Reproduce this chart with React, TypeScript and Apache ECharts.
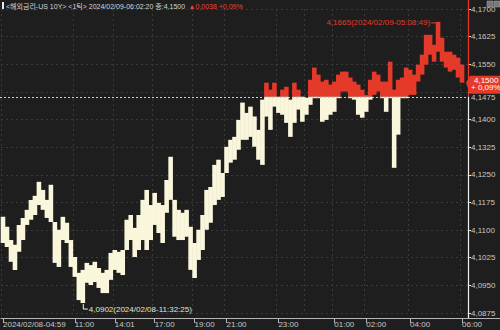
import React, { useEffect, useRef } from 'react';
import * as echarts from 'echarts';

const prevClose = 4.1462;
const lastPrice = 4.15;
const lastTime = '2024/02/09-06:02:20';
const minTime = '2024/02/08-11:32:25';
const maxTime = '2024/02/09-05:08:49';
const titleText = '<해외금리-US 10Y> <1틱>';

// per-bucket traded highs and lows (left to right, ~4px buckets)
const highs: (number | null)[] = [
  4.1136, 4.1109, 4.1073, 4.1060, 4.1114, 4.1133, 4.1155, 4.1182, 4.1193, 4.1231,
  4.1209, 4.1182, 4.1223, 4.1114, 4.1101, 4.1136, 4.1120, 4.1073, 4.1027, 4.0984,
  4.0992, 4.1011, 4.1005, 4.1014, 4.0997, 4.0984, 4.0992, 4.1038, 4.1046, 4.1041,
  4.1046, 4.1128, 4.1141, 4.1106, 4.1141, 4.1182, 4.1209, 4.1168, 4.1201, 4.1174,
  4.1168, 4.1236, 4.1299, 4.1182, 4.1155, 4.1147, 4.1155, 4.1109, 4.1065, 4.1101,
  4.1141, 4.1209, 4.1217, 4.1277, 4.1291, 4.1255, 4.1326, 4.1345, 4.1353, 4.1399,
  4.1446, 4.1418, 4.1435, 4.1408, 4.1372, 4.1454, 4.1500, 4.1481, 4.1500, 4.1462,
  4.1481, 4.1489, 4.1454, 4.1500, 4.1481, 4.1462, 4.1459, 4.1508, 4.1541, 4.1522,
  4.1503, 4.1508, 4.1495, 4.1503, 4.1522, 4.1530, 4.1530, 4.1514, 4.1503, 4.1495,
  4.1481, 4.1467, 4.1508, 4.1530, 4.1522, 4.1503, 4.1503, 4.1557, 4.1481, 4.1508,
  4.1514, 4.1541, 4.1535, 4.1522, 4.1549, 4.1576, 4.1630, 4.1630, 4.1603, 4.1665,
  4.1622, 4.1584, 4.1584, 4.1576, 4.1568, 4.1549, null,
];
const lows: (number | null)[] = [
  4.1065, 4.1054, 4.1014, 4.0992, 4.1041, 4.1073, 4.1114, 4.1128, 4.1141, 4.1168,
  4.1155, 4.1133, 4.1122, 4.1011, 4.1000, 4.1073, 4.1065, 4.1000, 4.0973, 4.0910,
  4.0902, 4.0957, 4.0951, 4.0959, 4.0943, 4.0929, 4.0929, 4.0965, 4.0992, 4.0984,
  4.0978, 4.1046, 4.1073, 4.1027, 4.1046, 4.1073, 4.1046, 4.1073, 4.1114, 4.1092,
  4.1065, 4.1147, 4.1182, 4.1082, 4.1073, 4.1073, 4.1082, 4.0992, 4.0970, 4.1019,
  4.1046, 4.1101, 4.1120, 4.1168, 4.1182, 4.1190, 4.1255, 4.1283, 4.1291, 4.1318,
  4.1345, 4.1345, 4.1353, 4.1326, 4.1291, 4.1277, 4.1408, 4.1372, 4.1435, 4.1418,
  4.1413, 4.1391, 4.1353, 4.1391, 4.1427, 4.1394, 4.1413, 4.1440, 4.1462, 4.1462,
  4.1394, 4.1399, 4.1413, 4.1421, 4.1462, 4.1476, 4.1476, 4.1462, 4.1454, 4.1413,
  4.1405, 4.1421, 4.1454, 4.1467, 4.1476, 4.1462, 4.1421, 4.1462, 4.1269, 4.1359,
  4.1462, 4.1462, 4.1467, 4.1467, 4.1503, 4.1522, 4.1549, 4.1576, 4.1557, 4.1584,
  4.1557, 4.1541, 4.1530, 4.1535, 4.1514, 4.1500, null,
];

const tickIndex = [0, 18, 28, 38, 48, 56, 69, 83, 91, 102, 115];
const tickLabels = ['2024/02/08-04:59', '11:00', '14:01', '17:00', '19:00', '21:00', '23:00', '01:00', '02:00', '04:00', '06:00'];
const extraGridIndex = [76];

const Y_MIN = 4.0875;
const Y_MAX = 4.17;
const Y_STEP = 0.0075;

const BG = '#1e1e1e';
const RED = '#e5392a';
const CREAM = '#f9f6dc';
const GRID = '#3b3b3b';
const FONT = "'Liberation Sans Narrow', 'Liberation Sans', 'Noto Sans CJK KR', sans-serif";

const fmt = (v: number) => v.toFixed(4).replace('.', ',');

export default function App() {
  const ref = useRef<HTMLDivElement>(null);
  useEffect(() => {
    document.body.style.margin = '0';
    const chart = echarts.init(ref.current!, null, { renderer: 'svg' });

    const cats = highs.map(() => '');
    tickIndex.forEach((ix, k) => { cats[ix] = tickLabels[k]; });
    const gridSet = new Set([...tickIndex, ...extraGridIndex]);
    const tickSet = new Set(tickIndex);

    const rows: number[][] = [];
    highs.forEach((h, b) => {
      const l = lows[b];
      if (h != null && l != null) rows.push([b, l, h]);
    });
    let minRow = rows[0], maxRow = rows[0], lastRow = rows[0];
    rows.forEach((r) => {
      if (r[1] < minRow[1]) minRow = r;
      if (r[2] > maxRow[2]) maxRow = r;
      lastRow = r;
    });
    const change = lastPrice - prevClose;
    const pct = (change / prevClose) * 100;
    const pctStr = pct.toFixed(2).replace('.', ',');

    chart.setOption({
      animation: false,
      backgroundColor: BG,
      grid: { left: 0, right: 32, top: 9, bottom: 17 },
      xAxis: {
        type: 'category',
        data: cats,
        boundaryGap: true,
        offset: 5,
        axisLine: { lineStyle: { color: '#b5b5b5', width: 1 } },
        axisTick: { show: true, alignWithLabel: true, length: 5, interval: (i: number) => tickSet.has(i), lineStyle: { color: '#b5b5b5' } },
        axisLabel: {
          interval: (i: number) => tickSet.has(i),
          align: 'left', margin: 2, color: '#c8c8c8', fontSize: 8, fontFamily: FONT,
        },
        splitLine: { show: true, interval: (i: number) => gridSet.has(i), lineStyle: { color: GRID, type: [2, 3], width: 1 } },
      },
      yAxis: {
        type: 'value',
        position: 'right',
        min: Y_MIN, max: Y_MAX, interval: Y_STEP,
        axisLine: { show: false },
        axisTick: { show: true, length: 3, lineStyle: { color: '#dddddd' } },
        axisLabel: {
          margin: 3, color: '#c8c8c8', fontSize: 8, fontFamily: FONT,
          formatter: (v: number) => (Math.abs(v - 4.1475) < 1e-6 ? '{d|' + fmt(v) + '}' : fmt(v)),
          rich: { d: { padding: [12, 0, 0, 0], color: '#c8c8c8', fontSize: 8, fontFamily: FONT } },
        },
        splitLine: { show: true, lineStyle: { color: GRID, type: [2, 3], width: 1 } },
      },
      series: [{
        type: 'custom',
        data: rows,
        encode: { x: 0, y: [1, 2] },
        renderItem: (params: any, api: any) => {
          const idx = api.value(0);
          let lo = api.value(1);
          let hi = api.value(2);
          // keep the trace continuous with the previous bucket
          const prev = rows[params.dataIndex - 1];
          if (prev) {
            if (lo > prev[2]) lo = prev[2];
            if (hi < prev[1]) hi = prev[1];
          }
          const [cx, yHi] = api.coord([idx, hi]);
          const [, yLo] = api.coord([idx, lo]);
          const [, yRef] = api.coord([idx, prevClose]);
          const w = api.size([1, 0])[0];
          const x0 = cx - w / 2 - 0.3;
          const ww = w + 0.6;
          const children: any[] = [];
          if (hi > prevClose) {
            const yb = Math.min(yLo, yRef);
            children.push({ type: 'rect', shape: { x: x0, y: yHi, width: ww, height: Math.max(yb - yHi, 1.5) }, style: { fill: RED } });
          }
          if (lo <= prevClose) {
            const yt = Math.max(yHi, yRef);
            children.push({ type: 'rect', shape: { x: x0, y: yt, width: ww, height: Math.max(yLo - yt, 1.5) }, style: { fill: CREAM } });
          }
          return { type: 'group', children };
        },
      }],
    });

    const P = (i: number, v: number) => chart.convertToPixel({ gridIndex: 0 }, [i, v]) as number[];
    const [mnx, mny] = P(minRow[0], minRow[1]);
    const [mxx, mxy] = P(maxRow[0], maxRow[2]);
    const [, ly] = P(lastRow[0], lastPrice);
    const [, prevY] = P(0, prevClose);
    const [, botY] = P(0, Y_MIN);
    const axX = 500 - 32;
    const axisY = botY + 5;

    chart.setOption({
      graphic: [
        { type: 'rect', shape: { x: 2, y: 2, width: 2, height: 7 }, style: { fill: '#e8e8e8' } },
        {
          type: 'text', x: 6, y: 6,
          style: {
            text: '{w|' + titleText + ' ' + lastTime + ' 종:' + fmt(lastPrice) + '} {r|▲' + fmt(change) + ' +' + pctStr + '%}',
            verticalAlign: 'middle',
            rich: {
              w: { fill: '#d6d6d6', fontSize: 7, fontFamily: FONT },
              r: { fill: '#e8443a', fontSize: 7, fontFamily: FONT },
            },
          },
        },
        { type: 'rect', shape: { x: 487, y: 1, width: 6, height: 6 }, style: { fill: '#777', stroke: '#aaa', lineWidth: 0.5 } },
        { type: 'rect', shape: { x: 494, y: 1, width: 6, height: 6 }, style: { fill: '#777', stroke: '#aaa', lineWidth: 0.5 } },
        { type: 'line', z: 50, shape: { x1: 0, y1: Math.round(prevY) + 0.5, x2: axX, y2: Math.round(prevY) + 0.5 }, style: { stroke: '#cfcfcf', lineWidth: 1, lineDash: [2, 2] } },
        { type: 'line', z: 50, shape: { x1: axX + 0.5, y1: 0, x2: axX + 0.5, y2: prevY }, style: { stroke: RED, lineWidth: 1.2 } },
        { type: 'line', z: 50, shape: { x1: axX + 0.5, y1: prevY, x2: axX + 0.5, y2: axisY }, style: { stroke: '#f0f0f0', lineWidth: 1.2 } },
        { type: 'line', shape: { x1: axX, y1: axisY + 0.5, x2: 500, y2: axisY + 0.5 }, style: { stroke: '#b5b5b5', lineWidth: 1 } },
        { type: 'polyline', shape: { points: [[mnx + 0.5, mny + 1], [mnx + 0.5, mny + 6], [mnx + 5, mny + 6]] }, style: { stroke: CREAM, lineWidth: 1, fill: null } },
        {
          type: 'text', x: mnx + 6, y: mny + 6,
          style: { text: fmt(minRow[1]) + '(' + minTime + ')', fill: '#e8e4cc', fontSize: 8, fontFamily: FONT, verticalAlign: 'middle', align: 'left' },
        },
        { type: 'polyline', shape: { points: [[mxx - 7, mxy + 1], [mxx - 0.5, mxy + 1], [mxx - 0.5, mxy + 6]] }, style: { stroke: RED, lineWidth: 1, fill: null } },
        {
          type: 'text', x: mxx - 8, y: mxy + 1,
          style: { text: fmt(maxRow[2]) + '(' + maxTime + ')', fill: RED, fontSize: 8, fontFamily: FONT, verticalAlign: 'middle', align: 'right' },
        },
        {
          type: 'polygon', z: 100,
          shape: { points: [[axX - 2, ly], [axX + 2, ly - 7], [500, ly - 7], [500, ly + 11], [axX + 2, ly + 11]] },
          style: { fill: RED },
        },
        {
          type: 'text', x: axX + 6, y: ly - 2.5, z: 101,
          style: { text: fmt(lastPrice), fill: '#ffffff', fontSize: 8, fontFamily: FONT, verticalAlign: 'middle' },
        },
        {
          type: 'text', x: axX + 3, y: ly + 5, z: 101,
          style: { text: '+ ' + pctStr + '%', fill: '#ffffff', fontSize: 8, fontFamily: FONT, verticalAlign: 'middle' },
        },
      ],
    });

    return () => chart.dispose();
  }, []);
  return <div ref={ref} style={{ width: 500, height: 330 }} />;
}
